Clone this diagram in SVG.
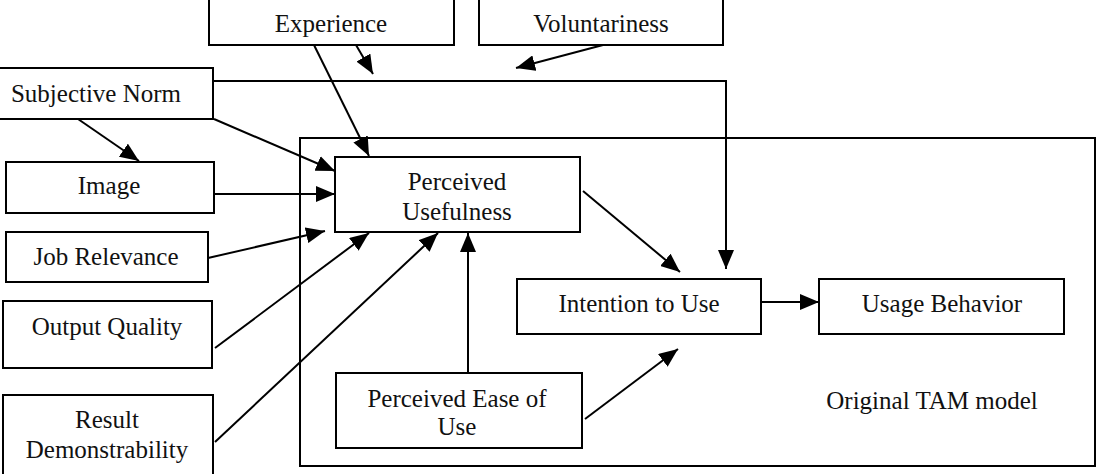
<svg xmlns="http://www.w3.org/2000/svg" width="1105" height="474" viewBox="0 0 1105 474" font-family="Liberation Serif, DejaVu Serif, serif">
<style>
rect{fill:#fff;stroke:#000;stroke-width:2}
.frame{fill:none}
text{font-family:'Liberation Serif','DejaVu Serif',serif;font-size:25px;fill:#111;text-anchor:middle}
.c line,.c polyline{stroke:#000;stroke-width:2;fill:none;marker-end:url(#ah)}
</style>
<defs>
<marker id="ah" markerUnits="userSpaceOnUse" markerWidth="20" markerHeight="16" refX="19" refY="8" orient="auto">
<path d="M0,0 L19,8 L0,16 z" fill="#000"/>
</marker>
</defs>
<g id="tam"><rect class="frame" x="300" y="138" width="795" height="328"/><text x="932" y="409">Original TAM model</text></g>
<g id="experience"><rect x="209" y="-5" width="245" height="50"/><text x="331" y="32">Experience</text></g>
<g id="voluntariness"><rect x="479" y="-5" width="244" height="50"/><text x="601" y="32">Voluntariness</text></g>
<g id="subjective-norm"><rect x="-2" y="68" width="215" height="51"/><text x="96" y="102">Subjective Norm</text></g>
<g id="image"><rect x="6" y="162" width="208" height="51"/><text x="109" y="194">Image</text></g>
<g id="job-relevance"><rect x="6" y="232" width="202" height="50"/><text x="106" y="265">Job Relevance</text></g>
<g id="output-quality"><rect x="3" y="301" width="209" height="67"/><text x="107" y="335">Output Quality</text></g>
<g id="result-demonstrability"><rect x="3" y="395" width="210" height="90"/><text x="107" y="428">Result</text><text x="107" y="458">Demonstrability</text></g>
<g id="perceived-usefulness"><rect x="335" y="157" width="245" height="75"/><text x="457" y="190">Perceived</text><text x="457" y="220">Usefulness</text></g>
<g id="perceived-ease"><rect x="336" y="373" width="246" height="75"/><text x="457" y="407">Perceived Ease of</text><text x="457" y="435">Use</text></g>
<g id="intention"><rect x="517" y="279" width="244" height="55"/><text x="639" y="312">Intention to Use</text></g>
<g id="usage-behavior"><rect x="819" y="279" width="245" height="55"/><text x="942" y="312">Usage Behavior</text></g>
<g id="connectors" class="c">
<line x1="356" y1="45" x2="373" y2="74"/>
<line x1="603" y1="45" x2="516" y2="68"/>
<line x1="314" y1="45" x2="369" y2="156"/>
<polyline points="213,81 726,81 726,269"/>
<line x1="78" y1="119" x2="139" y2="161"/>
<line x1="214" y1="119" x2="335" y2="171"/>
<line x1="214" y1="194" x2="335" y2="194"/>
<line x1="208" y1="258" x2="325" y2="231"/>
<line x1="215" y1="348" x2="369" y2="233"/>
<line x1="215" y1="442" x2="438" y2="233"/>
<line x1="468" y1="373" x2="468" y2="233"/>
<line x1="583" y1="191" x2="680" y2="272"/>
<line x1="585" y1="419" x2="678" y2="349"/>
<line x1="761" y1="302" x2="819" y2="302"/>
</g>
</svg>
